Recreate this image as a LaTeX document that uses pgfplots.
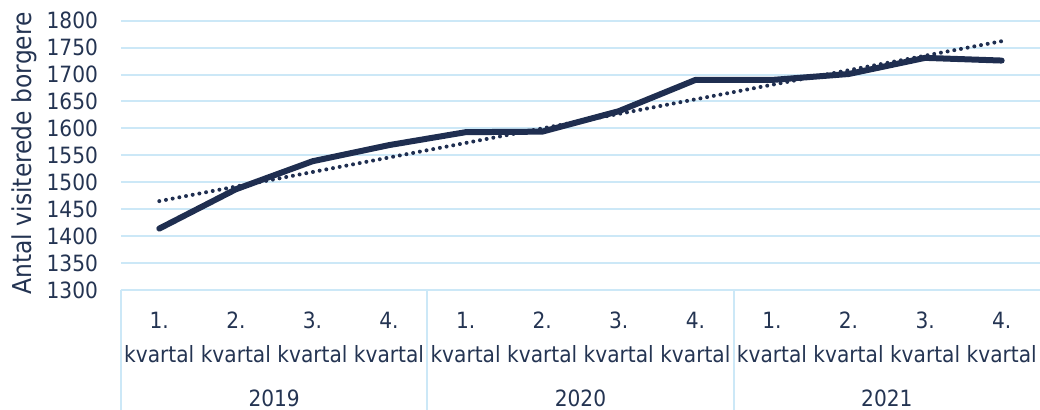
\documentclass[border=0pt]{standalone}
\usepackage{fontspec}
\setmainfont{DejaVu Sans}[FakeStretch=0.9]
\usepackage{pgfplots}
\pgfplotsset{compat=1.18}
\definecolor{navy}{HTML}{1F2E50}
\definecolor{txt}{HTML}{243452}
\definecolor{gridblue}{HTML}{CCE8F7}

\begin{document}
\begin{tikzpicture}
\begin{axis}[
    name=ax,
    scale only axis,
    width=459.5pt,
    height=134.65pt,
    xmin=-0.5, xmax=11.5,
    ymin=1300, ymax=1800,
    ytick={1300,1350,...,1800},
    xtick={0,...,11},
    xticklabels={1.\\kvartal,2.\\kvartal,3.\\kvartal,4.\\kvartal,
                 1.\\kvartal,2.\\kvartal,3.\\kvartal,4.\\kvartal,
                 1.\\kvartal,2.\\kvartal,3.\\kvartal,4.\\kvartal},
    axis line style={draw=none},
    ymajorgrids,
    grid style={gridblue, line width=1pt},
    major tick length=0pt,
    tick style={draw=none},
    /pgf/number format/assume math mode=true,
    /pgf/number format/1000 sep={},
    yticklabel style={font=\fontsize{11.2}{12}\selectfont, text=txt, xshift=-8pt},
    xticklabel style={font=\fontsize{11.2}{17}\selectfont, text=txt, align=center, yshift=-7.5pt},
    ylabel={Antal visiterede borgere},
    every axis y label/.style={at={(axis description cs:0,0.5)}, xshift=-48.5pt, yshift=1pt,
        rotate=90, anchor=center, font=\fontsize{13}{14}\selectfont, text=txt},
    clip=false,
]
\addplot[navy, line width=3pt, line join=round, line cap=round] coordinates {
    (0,1414) (1,1487) (2,1539) (3,1569)
    (4,1593) (5,1594) (6,1632) (7,1690)
    (8,1690) (9,1701) (10,1731) (11,1726)
};
\addplot[navy, line width=2pt, line cap=round, dash pattern=on 0pt off 3.4pt] coordinates {
    (0,1465) (11,1762)
};
\draw[gridblue, line width=1pt] (axis cs:-0.5,1300) -- (axis cs:11.5,1300);
\draw[gridblue, line width=1pt] (axis cs:-0.5,1300) -- ++(0pt,-62pt);
\draw[gridblue, line width=1pt] (axis cs:3.5,1300) -- ++(0pt,-62pt);
\draw[gridblue, line width=1pt] (axis cs:7.5,1300) -- ++(0pt,-62pt);
\node[text=txt, font=\fontsize{11.2}{12}\selectfont] at (axis cs:1.5,1300) [yshift=-54pt] {2019};
\node[text=txt, font=\fontsize{11.2}{12}\selectfont] at (axis cs:5.5,1300) [yshift=-54pt] {2020};
\node[text=txt, font=\fontsize{11.2}{12}\selectfont] at (axis cs:9.5,1300) [yshift=-54pt] {2021};
\end{axis}
\pgfresetboundingbox
\path[use as bounding box] ([xshift=-60.5pt, yshift=-60pt]ax.south west) rectangle ([yshift=10.35pt]ax.north east);
\end{tikzpicture}
\end{document}
